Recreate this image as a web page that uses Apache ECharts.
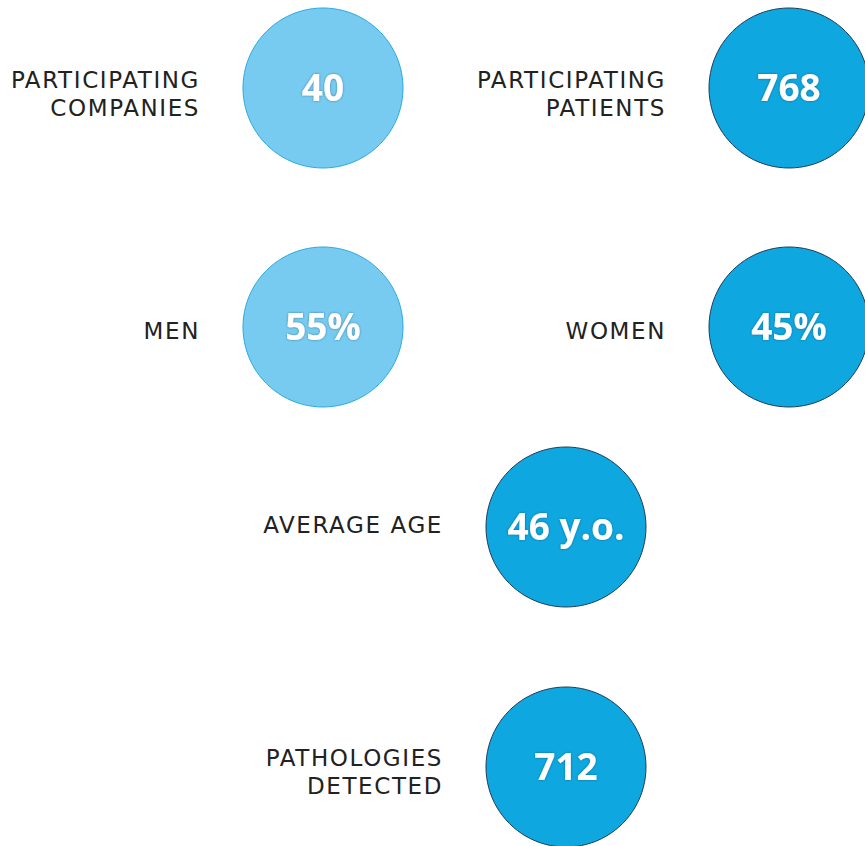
<!DOCTYPE html>
<html>
<head>
<meta charset="utf-8">
<title>Study figures</title>
<script src="https://cdn.jsdelivr.net/npm/echarts@6/dist/echarts.min.js"></script>
<style>
  html, body { margin: 0; padding: 0; background: #fff; }
  #chart { width: 865px; height: 846px; }
  /* captions in the reference are tracked out */
  #chart text[style*="DejaVu"] { letter-spacing: 1.6px; }
</style>
</head>
<body>
<div id="chart"></div>
<script>
// figures shown in the infographic
const labels = ['PARTICIPATING\nCOMPANIES', 'PARTICIPATING\nPATIENTS', 'MEN', 'WOMEN', 'AVERAGE AGE', 'PATHOLOGIES\nDETECTED'];
const values = ['40', '768', '55%', '45%', '46 y.o.', '712'];
const tones = ['light', 'dark', 'light', 'dark', 'dark', 'dark'];

// layout (pixel space of the 865x846 canvas)
const layoutX = [323, 789, 323, 789, 566, 566];
const layoutY = [88, 88, 327, 327, 527, 767];
const labelDy = [6, 6, 4, 4, -2, 5];

const palette = {
  light: { fill: '#77CBF0', border: '#2AAAE0' },
  dark: { fill: '#0FA7DF', border: '#1B3D58' }
};

const circles = values.map((v, i) => ({
  name: labels[i],
  value: [layoutX[i], layoutY[i]],
  itemStyle: { color: palette[tones[i]].fill, borderColor: palette[tones[i]].border, borderWidth: 1, opacity: 1 },
  label: { formatter: v }
}));

const captions = labels.map((l, i) => ({
  name: l,
  value: [layoutX[i], layoutY[i]],
  label: { formatter: l, offset: [0, labelDy[i]] }
}));

const chart = echarts.init(document.getElementById('chart'), null, { renderer: 'svg' });
chart.setOption({
  animation: false,
  grid: { left: 0, right: 0, top: 0, bottom: 0 },
  xAxis: { type: 'value', min: 0, max: 865, show: false },
  yAxis: { type: 'value', min: 0, max: 846, inverse: true, show: false },
  series: [
    {
      type: 'scatter',
      symbol: 'circle',
      symbolSize: 160,
      data: circles,
      silent: true,
      label: {
        show: true,
        position: 'inside',
        color: '#fff',
        fontFamily: 'Open Sans',
        fontWeight: 'bold',
        fontSize: 37,
        textShadowColor: 'rgba(0,40,70,0.5)',
        textShadowBlur: 2,
        offset: [0, -2]
      }
    },
    {
      type: 'scatter',
      symbol: 'circle',
      symbolSize: 160,
      data: captions,
      silent: true,
      itemStyle: { color: 'rgba(0,0,0,0)', opacity: 1 },
      label: {
        show: true,
        position: 'left',
        distance: 43,
        align: 'right',
        color: '#222',
        opacity: 1,
        fontFamily: 'DejaVu Sans',
        fontSize: 23,
        lineHeight: 28
      }
    }
  ]
});
</script>
</body>
</html>
